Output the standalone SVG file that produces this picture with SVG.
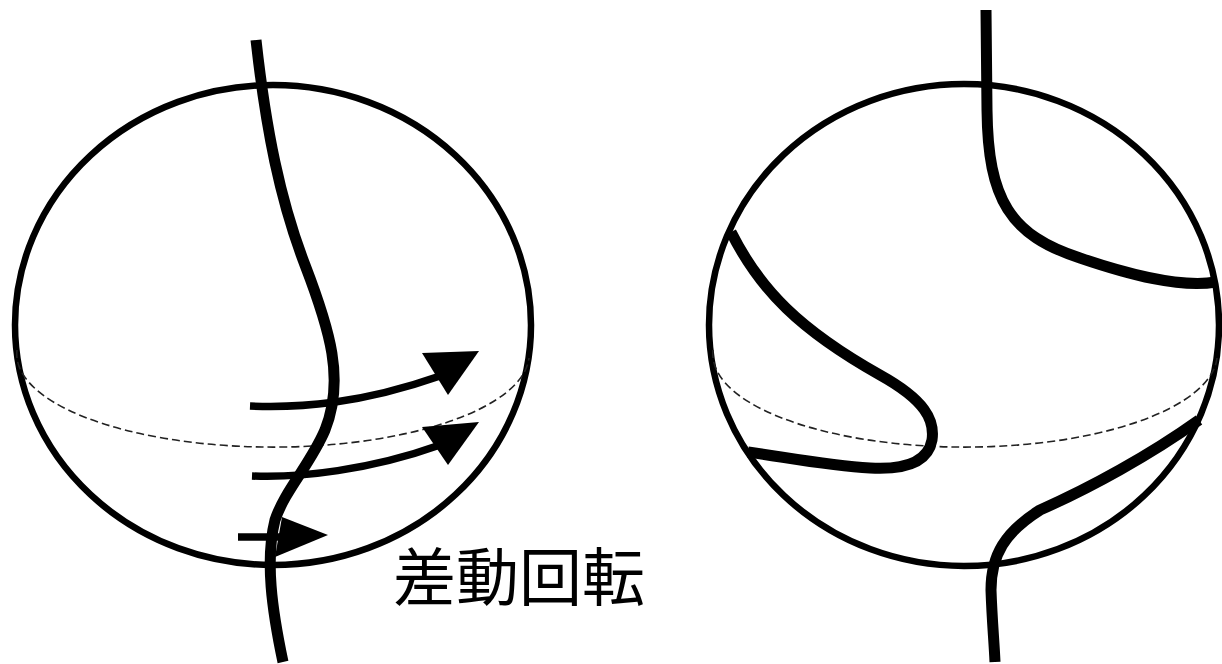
<svg xmlns="http://www.w3.org/2000/svg" width="1222" height="664" viewBox="0 0 1222 664">
  <style>
    .sphere { fill: none; stroke: #000; stroke-width: 6.5; }
    .equator { fill: none; stroke: #222; stroke-width: 1.6; stroke-dasharray: 8 4; }
    .field { fill: none; stroke: #000; stroke-width: 11; stroke-linecap: butt; }
    .flow { fill: none; stroke: #000; stroke-width: 7.5; stroke-linecap: butt; }
    .head { fill: #000; stroke: none; }
    .label { font-family: "Noto Sans CJK JP", "Noto Sans CJK SC", sans-serif; font-size: 63px; fill: #000; }
  </style>
  <rect width="1222" height="664" fill="#fff"/>

  <!-- left sphere: field line wound by differential rotation -->
  <g id="sphere-left">
    <ellipse class="sphere" cx="273" cy="325" rx="258" ry="240"/>
    <path class="equator" d="M17,350 A256 93 0 0 0 529,358"/>
  </g>
  <g id="field-left">
    <path class="field" d="M256,40 C266,130 280,200 305,265 C330,330 345,380 325,430 C310,465 285,490 275,520 C265,560 272,610 283,662"/>
  </g>
  <g id="rotation-arrows">
    <path class="flow" d="M250,406 C300,408 360,404 440,376"/>
    <polygon class="head" points="422,353 479,351 448,395"/>
    <path class="flow" d="M252,476 C300,478 370,470 440,445"/>
    <polygon class="head" points="422,427 479,422 448,465"/>
    <path class="flow" d="M238,537 L285,537"/>
    <polygon class="head" points="282,517 328,535 275,557"/>
  </g>
  <g id="label">
    <text class="label" x="393" y="600">差動回転</text>
  </g>

  <!-- right sphere: reconnected field lines -->
  <g id="sphere-right">
    <ellipse class="sphere" cx="964" cy="325" rx="255" ry="241"/>
    <path class="equator" d="M713,350 A252 93 0 0 0 1217,358"/>
  </g>
  <g id="field-right">
    <path class="field" d="M986,10 L987,110 C988,200 1010,235 1080,258 C1130,275 1180,288 1216,282"/>
    <path class="field" d="M731,232 C760,290 800,330 880,375 C925,400 935,420 932,440 C928,462 905,470 870,468 C830,466 790,458 748,452"/>
    <path class="field" d="M1199,420 C1150,455 1090,488 1040,510 C1005,532 991,555 991,590 C992,620 994,640 995,662"/>
  </g>
</svg>
